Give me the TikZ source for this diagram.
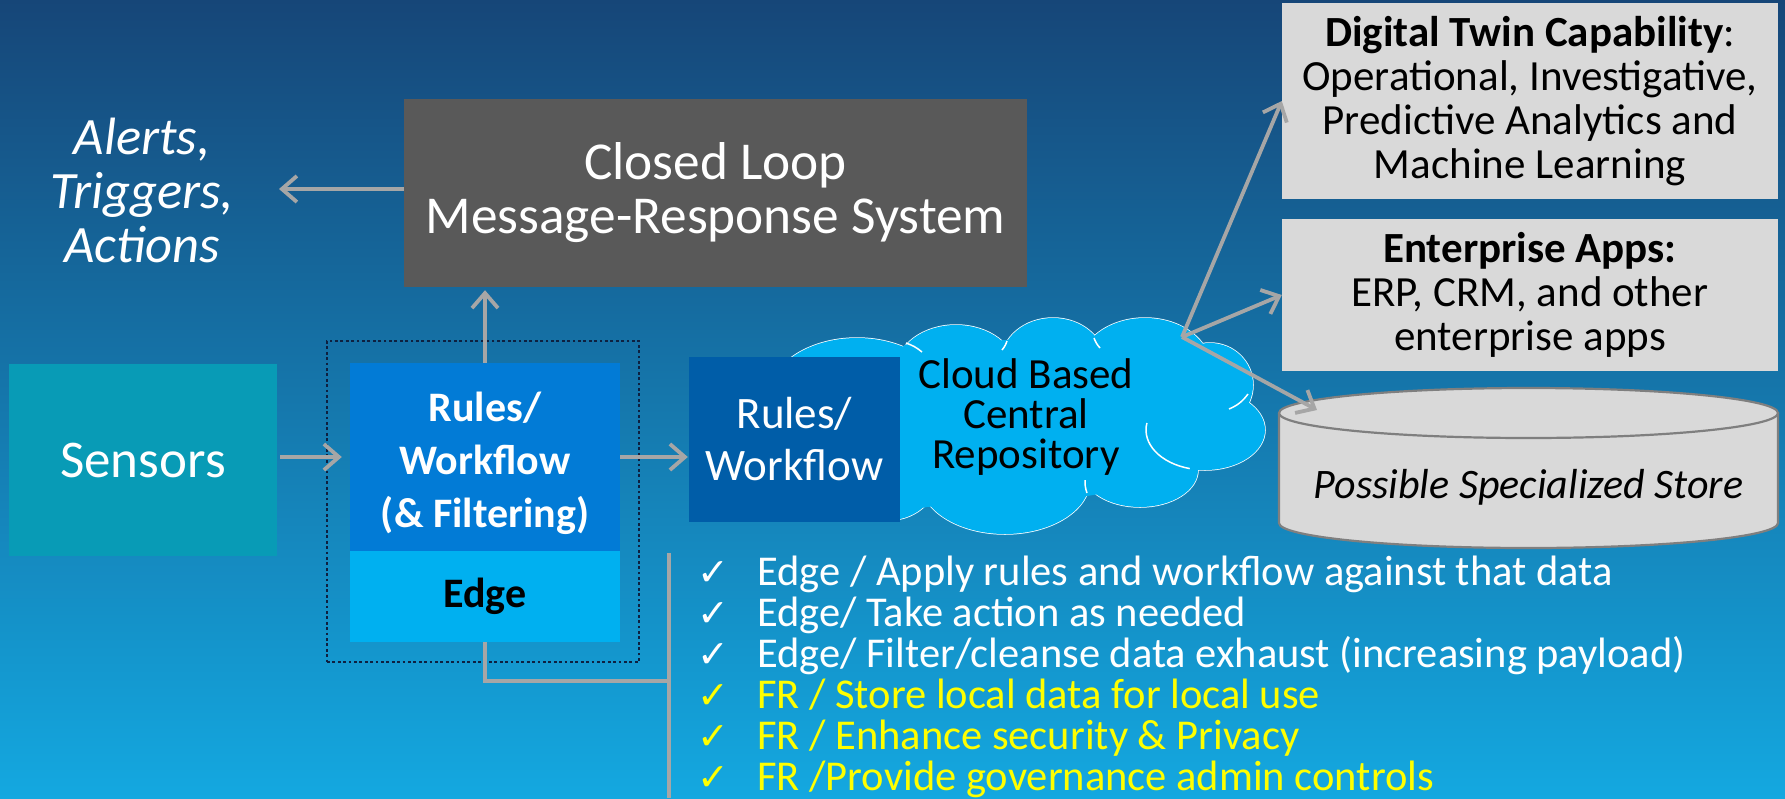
\documentclass[tikz,border=0pt]{standalone}
\usepackage{fontspec}
\setmainfont{Carlito}
\newfontfamily\ckfont{DejaVu Sans}
\usetikzlibrary{arrows.meta,calc}
\definecolor{bgtop}{RGB}{22,70,120}
\definecolor{bgmid}{RGB}{28,112,164}
\definecolor{bgbot}{RGB}{20,168,224}
\definecolor{sensorcol}{RGB}{8,155,182}
\definecolor{loopcol}{RGB}{89,89,89}
\definecolor{rulescol}{RGB}{2,123,214}
\definecolor{edgecol}{RGB}{0,176,240}
\definecolor{cloudbox}{RGB}{0,93,168}
\definecolor{cloudcol}{RGB}{0,176,240}
\definecolor{lightbox}{RGB}{217,217,217}
\definecolor{cylline}{RGB}{127,127,127}
\definecolor{arrowgray}{RGB}{166,166,166}
\definecolor{dotcol}{RGB}{14,32,64}
\definecolor{fryellow}{RGB}{255,255,0}
\begin{document}
\begin{tikzpicture}[x=1pt,y=-1pt,
  box/.style={inner sep=0pt, align=center},
  conn/.style={draw=arrowgray, line width=3.8pt, -{Straight Barb[length=15pt,width=26pt]}},
  plainline/.style={draw=arrowgray, line width=3.8pt},
  bullet/.style={anchor=base west, inner sep=0pt, font=\fontsize{42.5}{42.5}\selectfont},
  ck/.style={anchor=base west, inner sep=0pt, font=\ckfont\fontsize{38}{38}\selectfont},
  crease/.style={draw=white, line width=1.5pt}
]
\useasboundingbox (0,0) rectangle (1785,798);
\shade[top color=bgtop, middle color=bgmid, bottom color=bgbot] (0,0) rectangle (1785,798);

% Sensors
\node[box, fill=sensorcol, minimum width=268pt, minimum height=192pt, text=white,
  font=\fontsize{53}{54}\selectfont] (sensors) at (143,460) {Sensors};

% Closed loop
\node[box, fill=loopcol, minimum width=623pt, minimum height=188pt, text=white,
  font=\fontsize{53.3}{54}\selectfont] (loop) at (715.5,193) {Closed Loop\\Message-Response System};

% Alerts
\node[box, text=white, font=\itshape\fontsize{52.5}{54}\selectfont] (alerts) at (142,190) {Alerts,\\Triggers,\\Actions};
\coordinate (alerttip) at (279,189);

% Edge group
\node[draw=dotcol, line width=2.8pt, dash pattern=on 2.8pt off 2.6pt, minimum width=312pt, minimum height=321pt, inner sep=0pt] (edgegroup) at (483,501.5) {};
\node[fill=rulescol, minimum width=270pt, minimum height=188pt, inner sep=0pt] (rules) at (485,457) {};
\node[box, text=white, font=\bfseries\fontsize{42}{53}\selectfont] (rulestxt) at (485,463) {Rules/\\Workflow\\(\& Filtering)};
\node[box, fill=edgecol, minimum width=270pt, minimum height=91pt, text=black,
  font=\bfseries\fontsize{42}{51}\selectfont] (edge) at (485,596.5) {Edge};

% Cloud (union of puffs: outlined first, then interiors refilled)
\def\puffs{
  (857,400) ellipse [x radius=90pt, y radius=62pt]
  (956,370) ellipse [x radius=60pt, y radius=45pt]
  (1053,362) ellipse [x radius=52pt, y radius=44pt]
  (1145,368) ellipse [x radius=66pt, y radius=50pt]
  (1210,385) ellipse [x radius=43pt, y radius=42pt]
  (1205,430) ellipse [x radius=60pt, y radius=40pt]
  (1140,470) ellipse [x radius=58pt, y radius=37pt]
  (1005,480) ellipse [x radius=85pt, y radius=54pt]
  (890,470) ellipse [x radius=50pt, y radius=50pt]}
\draw[crease, fill=cloudcol] \puffs;
\fill[cloudcol] \puffs;
\fill[cloudcol] (800,420) -- (905,345) -- (1007,340) -- (1098,337) -- (1200,345) -- (1247,395)
  -- (1193,468) -- (1087,492) -- (927,507) -- (880,515) -- cycle;
\fill[cloudcol] (1030,430) ellipse [x radius=170pt, y radius=70pt];
\node[inner sep=0pt, minimum width=475pt, minimum height=216pt] (cloud) at (1026,426) {};
% creases
\draw[crease] (1146.9,423) arc[start angle=170, end angle=255, x radius=59pt, y radius=40pt];
\draw[crease] (1229,409) to[bend right=15] (1248,394);
\draw[crease] (906,343) to[bend left=10] (922,352);
\draw[crease] (1087,493) to[bend left=10] (1085,480);
\draw[crease] (1007,341) to[bend left=10] (1002,350);
\draw[crease] (1094,338) to[bend right=10] (1100,348);

\node[box, text=black, font=\fontsize{43}{40}\selectfont] (cloudtxt) at (1026,417) {Cloud Based\\Central\\Repository};
\node[box, fill=cloudbox, minimum width=211pt, minimum height=165pt, text=white,
  font=\fontsize{45}{52}\selectfont] (cloudrules) at (794.5,439.5) {Rules/\\Workflow};

% Right boxes
\node[box, fill=lightbox, minimum width=496pt, minimum height=196pt, text=black,
  font=\fontsize{43}{44}\selectfont] (twin) at (1530,101) {\textbf{Digital Twin Capability}:\\Operational, Investigative,\\Predictive Analytics and\\Machine Learning};
\node[box, fill=lightbox, minimum width=496pt, minimum height=152pt, text=black,
  font=\fontsize{43}{44}\selectfont] (apps) at (1530,295) {\textbf{Enterprise Apps:}\\ERP, CRM, and other\\enterprise apps};

% Cylinder
\fill[lightbox] (1279,413) -- (1279,523) arc[start angle=180, end angle=360, x radius=249.5pt, y radius=25pt] -- (1778,413) -- cycle;
\draw[cylline, line width=2.2pt] (1279,413) -- (1279,523) arc[start angle=180, end angle=360, x radius=249.5pt, y radius=25pt] -- (1778,413);
\draw[cylline, line width=2.2pt, fill=lightbox] (1528.5,413) ellipse [x radius=249.5pt, y radius=25pt];
\node[box, text=black, font=\itshape\fontsize{42}{44}\selectfont] (store) at (1528.5,487) {Possible Specialized Store};
\coordinate (cyltip) at (1317,410);

% Connectors
\coordinate (hub) at (1182,337);
\draw[conn, shorten >=8pt] (sensors.east |- rules.west) ++(3,0) -- (rules.west);
\draw[conn, shorten >=3pt] (rules.north) -- (rules.north |- loop.south);
\draw[conn] (loop.west |- alerttip) -- (alerttip);
\draw[conn, shorten >=1pt] (rules.east) -- (rules.east -| cloudrules.west);
\draw[conn] (hub) -- (twin.west);
\draw[conn] (hub) -- (apps.west);
\draw[conn] (hub) -- (cyltip);
\coordinate (vtop) at (669,553);
\coordinate (vbot) at (669,798);
\coordinate (join) at (669,681);
\draw[plainline] (edge.south) -- (edge.south |- join) -- (join);
\draw[plainline] (vtop) -- (vbot);

% Bullet list
\foreach \yy/\col/\txt [count=\i] in {
  585/white/{Edge / Apply rules and workflow against that data},
  626/white/{Edge/ Take action as needed},
  667/white/{Edge/ Filter/cleanse data exhaust (increasing payload)},
  708/fryellow/{FR / Store local data for local use},
  749/fryellow/{FR / Enhance security \& Privacy},
  790/fryellow/{FR /Provide governance admin controls}}{
  \node[ck, text=\col] (c\i) at (697,\yy) {✓};
  \node[bullet, text=\col] (l\i) at (757,\yy) {\txt};
}
\end{tikzpicture}
\end{document}
